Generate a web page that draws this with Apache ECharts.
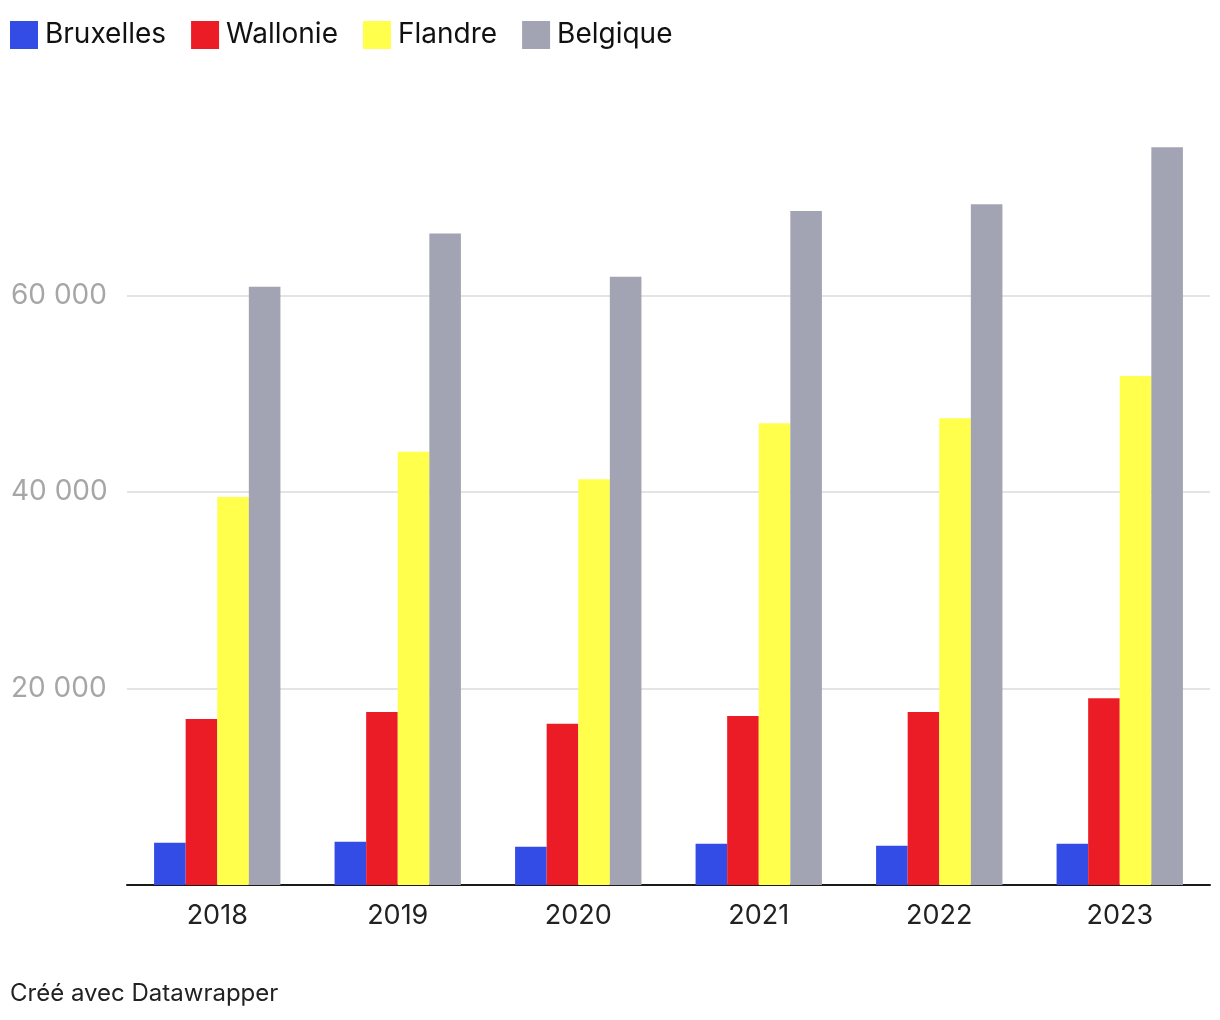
<!DOCTYPE html>
<html><head><meta charset="utf-8">
<script src="https://cdn.jsdelivr.net/npm/echarts@6/dist/echarts.min.js"></script>
<style>html,body{margin:0;padding:0;background:#fff}#c{width:1220px;height:1020px}</style>
</head><body><div id="c"></div>
<script>
const years = ['2018','2019','2020','2021','2022','2023'];
const bruxelles = [4300, 4400, 3900, 4200, 4000, 4200];
const wallonie = [16900, 17600, 16400, 17200, 17600, 19000];
const flandre = [39500, 44100, 41300, 47000, 47500, 51800];
const belgique = [60900, 66300, 61900, 68600, 69300, 75100];
const seriesNames = ['Bruxelles','Wallonie','Flandre','Belgique'];
const colors = ['#334ce6','#ec1c27','#ffff4c','#a2a4b3'];
const FONT = 'Inter, "Noto Sans", sans-serif';

const chart = echarts.init(document.getElementById('c'), null, {renderer:'canvas'});
const dataArr = [bruxelles, wallonie, flandre, belgique];
chart.setOption({
  animation:false,
  color: colors,
  textStyle:{fontFamily:FONT},
  legend:{
    left:10, top:21, padding:0, icon:'rect', itemWidth:28, itemHeight:28, itemGap:25,
    textStyle:{fontSize:28, color:'#111', fontFamily:FONT, padding:[2,0,0,2]},
    data: seriesNames
  },
  grid:{left:127, right:10, top:99, bottom:135, containLabel:false},
  xAxis:{
    type:'category', data:years,
    axisLine:{show:true, lineStyle:{color:'#1a1a1a', width:2}},
    axisTick:{show:false},
    axisLabel:{fontSize:27, color:'#222', margin:17, fontFamily:FONT}
  },
  yAxis:{
    type:'value', min:0, max:80000, interval:20000,
    axisLine:{show:false}, axisTick:{show:false},
    splitLine:{lineStyle:{color:['#e4e4e4','#e4e4e4','#e4e4e4','#e4e4e4','rgba(0,0,0,0)'], width:2}},
    axisLabel:{
      align:'left', margin:116, fontSize:28, color:'#a6a6a6', fontFamily:FONT,
      formatter:v => (v===0 || v===80000) ? '' : String(v).replace(/\B(?=(\d{3})+(?!\d))/g,' ')
    }
  },
  series: seriesNames.map((n,i)=>({
    name:n, type:'bar', data:dataArr[i], barGap:'0%', barCategoryGap:'30%',
    itemStyle:{color:colors[i]}
  })),
  graphic:[{type:'text', left:10, top:982, style:{text:'Créé avec Datawrapper', fontSize:24, fill:'#222', fontFamily:FONT}}]
});
</script></body></html>
